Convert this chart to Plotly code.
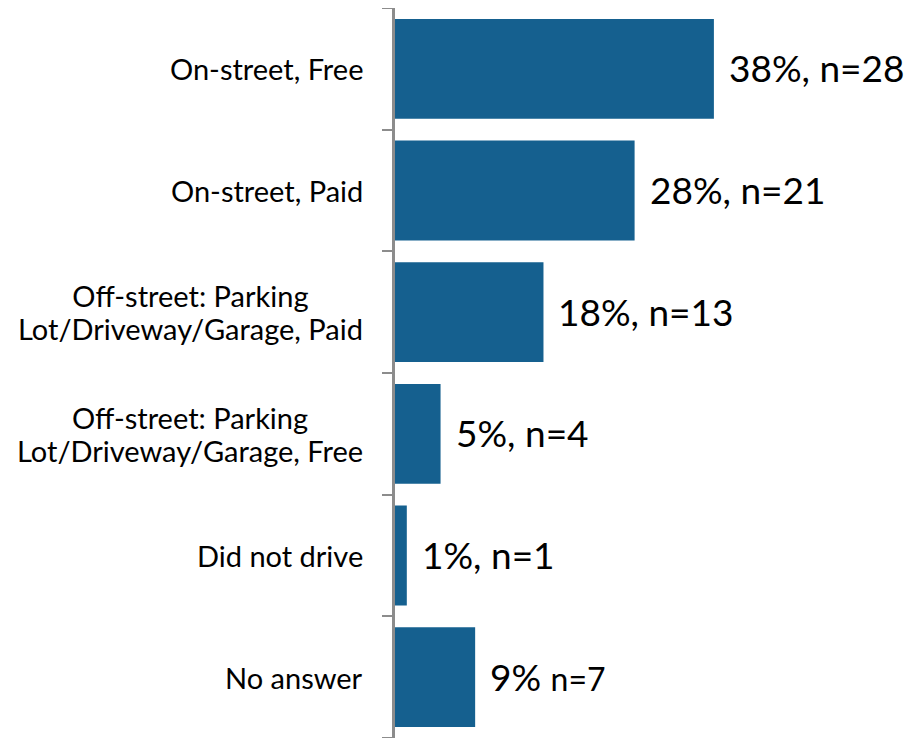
import plotly.graph_objects as go

categories = [
    "On-street, Free",
    "On-street, Paid",
    "Off-street: Parking<br>Lot/Driveway/Garage, Paid",
    "Off-street: Parking<br>Lot/Driveway/Garage, Free",
    "Did not drive",
    "No answer",
]
values = [37.8, 28.4, 17.6, 5.4, 1.4, 9.5]
labels = [
    "38%, n=28",
    "28%, n=21",
    "18%, n=13",
    "5%, n=4",
    "1%, n=1",
    "9% <span style='font-size:32px'>n=7</span>",
]

BAR_COLOR = "#15608f"
AXIS_COLOR = "#8c8c8c"
FONT = "Lato"

fig = go.Figure()
fig.add_trace(go.Bar(
    x=values,
    y=list(range(len(categories))),
    orientation="h",
    marker=dict(color=BAR_COLOR, line=dict(width=0)),
    hoverinfo="skip",
))

# value labels
for i, (v, lab) in enumerate(zip(values, labels)):
    fig.add_annotation(
        x=v, y=i, xref="x", yref="y", text=lab, showarrow=False,
        xanchor="left", yanchor="middle", xshift=13, yshift=1,
        font=dict(family=FONT, size=37, color="#000000"),
    )

# category labels (centered multi-line, tighter line spacing)
for i, c in enumerate(categories):
    lines = c.split("<br>")
    txt = "<br>".join(f"<span style='font-size:29px'>{ln}</span>" for ln in lines)
    fig.add_annotation(
        x=0, y=i, xref="paper", yref="y", text=txt, showarrow=False,
        xanchor="right", yanchor="middle", xshift=-30, align="center",
        font=dict(family=FONT, size=25, color="#000000"),
    )

fig.update_layout(
    template="none",
    width=905, height=730,
    margin=dict(l=387, r=0, t=0, b=0, autoexpand=False),
    paper_bgcolor="white", plot_bgcolor="white",
    bargap=0.18,
    showlegend=False,
    font=dict(family=FONT),
)
fig.update_xaxes(
    range=[0, 61.4], showgrid=False, zeroline=False, showticklabels=False,
    showline=False, ticks="", automargin=False,
)
fig.update_yaxes(
    range=[5.5, -0.5], tickmode="array", tickvals=[-0.5, 0.5, 1.5, 2.5, 3.5, 4.5, 5.5],
    ticktext=[""] * 7, showgrid=False, zeroline=False, automargin=False,
    showline=True, linecolor=AXIS_COLOR, linewidth=2.5,
    ticks="outside", ticklen=10, tickwidth=2, tickcolor=AXIS_COLOR,
)

fig.write_html("out.html")
